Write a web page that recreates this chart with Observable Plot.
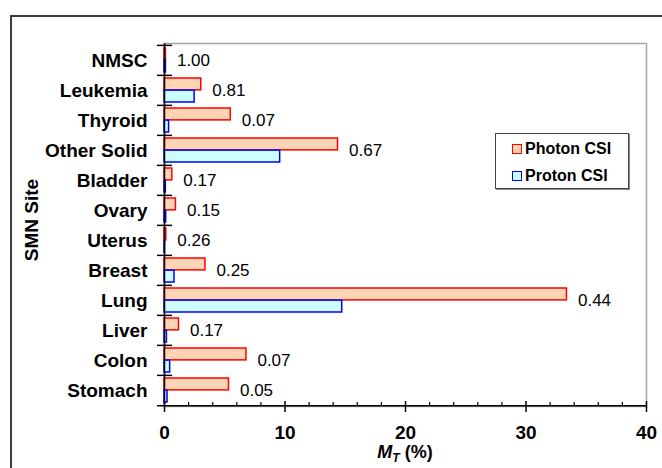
<!DOCTYPE html>
<html>
<head>
<meta charset="utf-8">
<script src="https://cdn.jsdelivr.net/npm/d3@7"></script>
<script src="https://cdn.jsdelivr.net/npm/@observablehq/plot@0.6"></script>
<style>
  html, body { margin: 0; padding: 0; background: #fff; overflow: hidden; }
  #wrap { position: relative; width: 662px; height: 468px; overflow: hidden; font-family: "Liberation Sans", Arial, sans-serif; }
  #outer { position: absolute; left: 10px; top: 15px; width: 700px; height: 500px; border: 2px solid #3c3c3c; box-sizing: border-box; }
  #chart { position: absolute; left: 0; top: 0; }
  #legend { position: absolute; left: 495px; top: 133px; width: 134px; height: 56px; border: 1px solid #444; box-shadow: 1px 1px 0 #888; background: #fff; box-sizing: border-box; }
  .item { position: absolute; left: 16px; display: flex; align-items: center; font-weight: bold; font-size: 16px; color: #000; line-height: 16px; }
  .sw { width: 8px; height: 8px; margin-right: 3px; border: 1.5px solid; }
  svg text { font-family: "Liberation Sans", Arial, sans-serif; }
</style>
</head>
<body>
<div id="wrap">
  <div id="outer"></div>
  <div id="chart"></div>
  <div id="legend"></div>
</div>
<script>
const sites = ["NMSC","Leukemia","Thyroid","Other Solid","Bladder","Ovary","Uterus","Breast","Lung","Liver","Colon","Stomach"];
const photonCSI = [0.12, 3.05, 5.5, 14.4, 0.65, 0.95, 0.15, 3.4, 33.4, 1.2, 6.8, 5.35];
const protonCSI = [0.12, 2.5, 0.38, 9.6, 0.11, 0.14, 0.04, 0.83, 14.75, 0.2, 0.47, 0.25];
const ratioLabels = ["1.00","0.81","0.07","0.67","0.17","0.15","0.26","0.25","0.44","0.17","0.07","0.05"];
const majorTicks = [0, 10, 20, 30, 40];
const minorTicks = [2, 4, 6, 8, 12, 14, 16, 18, 22, 24, 26, 28, 32, 34, 36, 38];
const seriesNames = ["Photon CSI", "Proton CSI"];

const photonFill = "#FCD5B4", photonStroke = "#FF0000";
const protonFill = "#CCFFFF", protonStroke = "#0000FF";

const rows = sites.map((s, i) => ({site: s, photon: photonCSI[i], proton: protonCSI[i], ratio: ratioLabels[i]}));

const W = 662, H = 468, mL = 164, mR = 16, mT = 43, mB = 62;
const innerH = H - mT - mB;
const bw = innerH / sites.length;
const xMax = 40;
const pxToX = xMax / (W - mL - mR);

const plot = Plot.plot({
  width: W, height: H,
  marginLeft: mL, marginRight: mR, marginTop: mT, marginBottom: mB,
  style: {fontFamily: "Liberation Sans, Arial, sans-serif", background: "transparent", color: "#000"},
  x: {domain: [0, xMax]},
  y: {domain: sites, padding: 0},
  marks: [
    Plot.frame({stroke: "#a6a6a6", strokeWidth: 1.5}),
    Plot.barX(rows, {x: "photon", y: "site", fill: photonFill, stroke: photonStroke, strokeWidth: 1.5, insetTop: 3, insetBottom: bw / 2}),
    Plot.barX(rows, {x: "proton", y: "site", fill: protonFill, stroke: protonStroke, strokeWidth: 1.5, insetTop: bw / 2, insetBottom: 3}),
    Plot.text(rows, {x: "photon", y: "site", text: "ratio", dx: 11, textAnchor: "start", fontSize: 17, fill: "#000"}),
    Plot.ruleX([0], {stroke: "#000", strokeWidth: 1.5}),
    Plot.ruleY(sites, {y: d => d, x1: -7 * pxToX, x2: 8 * pxToX, dy: -bw / 2, stroke: "#000", strokeWidth: 1.5}),
    Plot.ruleY([sites[sites.length - 1]], {y: d => d, x1: -7 * pxToX, x2: xMax, dy: bw / 2, stroke: "#000", strokeWidth: 1.5}),
    Plot.ruleX(majorTicks, {x: d => d, insetTop: innerH - 5, insetBottom: -6, stroke: "#000", strokeWidth: 1.5}),
    Plot.ruleX(minorTicks, {x: d => d, insetTop: innerH - 4, stroke: "#000", strokeWidth: 1.2}),
    Plot.axisY({tickSize: 0, tickPadding: 17, fontSize: 19, fontWeight: "bold", label: null}),
    Plot.axisX({ticks: majorTicks, tickSize: 0, tickPadding: 19, fontSize: 19, fontWeight: "bold", label: null}),
    Plot.text(["SMN Site"], {frameAnchor: "left", textAnchor: "middle", text: d => d, rotate: -90, dx: -133, dy: -5, fontSize: 19, fontWeight: "bold", fill: "#000"})
  ]
});
document.getElementById("chart").appendChild(plot);

// x-axis title with subscript
const xs = plot.scale("x");
const cx = (xs.range[0] + xs.range[1]) / 2;
const svg = d3.select(plot);
const t = svg.append("text")
  .attr("x", cx).attr("y", H - 10)
  .attr("text-anchor", "middle")
  .attr("font-size", 18).attr("font-weight", "bold")
  .attr("fill", "#000");
t.append("tspan").attr("font-style", "italic").text("M");
t.append("tspan").attr("font-style", "italic").attr("font-size", 12).attr("dy", 4).text("T");
t.append("tspan").attr("dy", -4).text(" (%)");

// legend
const legend = document.getElementById("legend");
[[seriesNames[0], photonFill, photonStroke, 7], [seriesNames[1], protonFill, protonStroke, 34]].forEach(([name, f, s, top]) => {
  const it = document.createElement("div");
  it.className = "item";
  it.style.top = top + "px";
  const sw = document.createElement("span");
  sw.className = "sw";
  sw.style.background = f;
  sw.style.borderColor = s;
  it.appendChild(sw);
  it.appendChild(document.createTextNode(name));
  legend.appendChild(it);
});
</script>
</body>
</html>
